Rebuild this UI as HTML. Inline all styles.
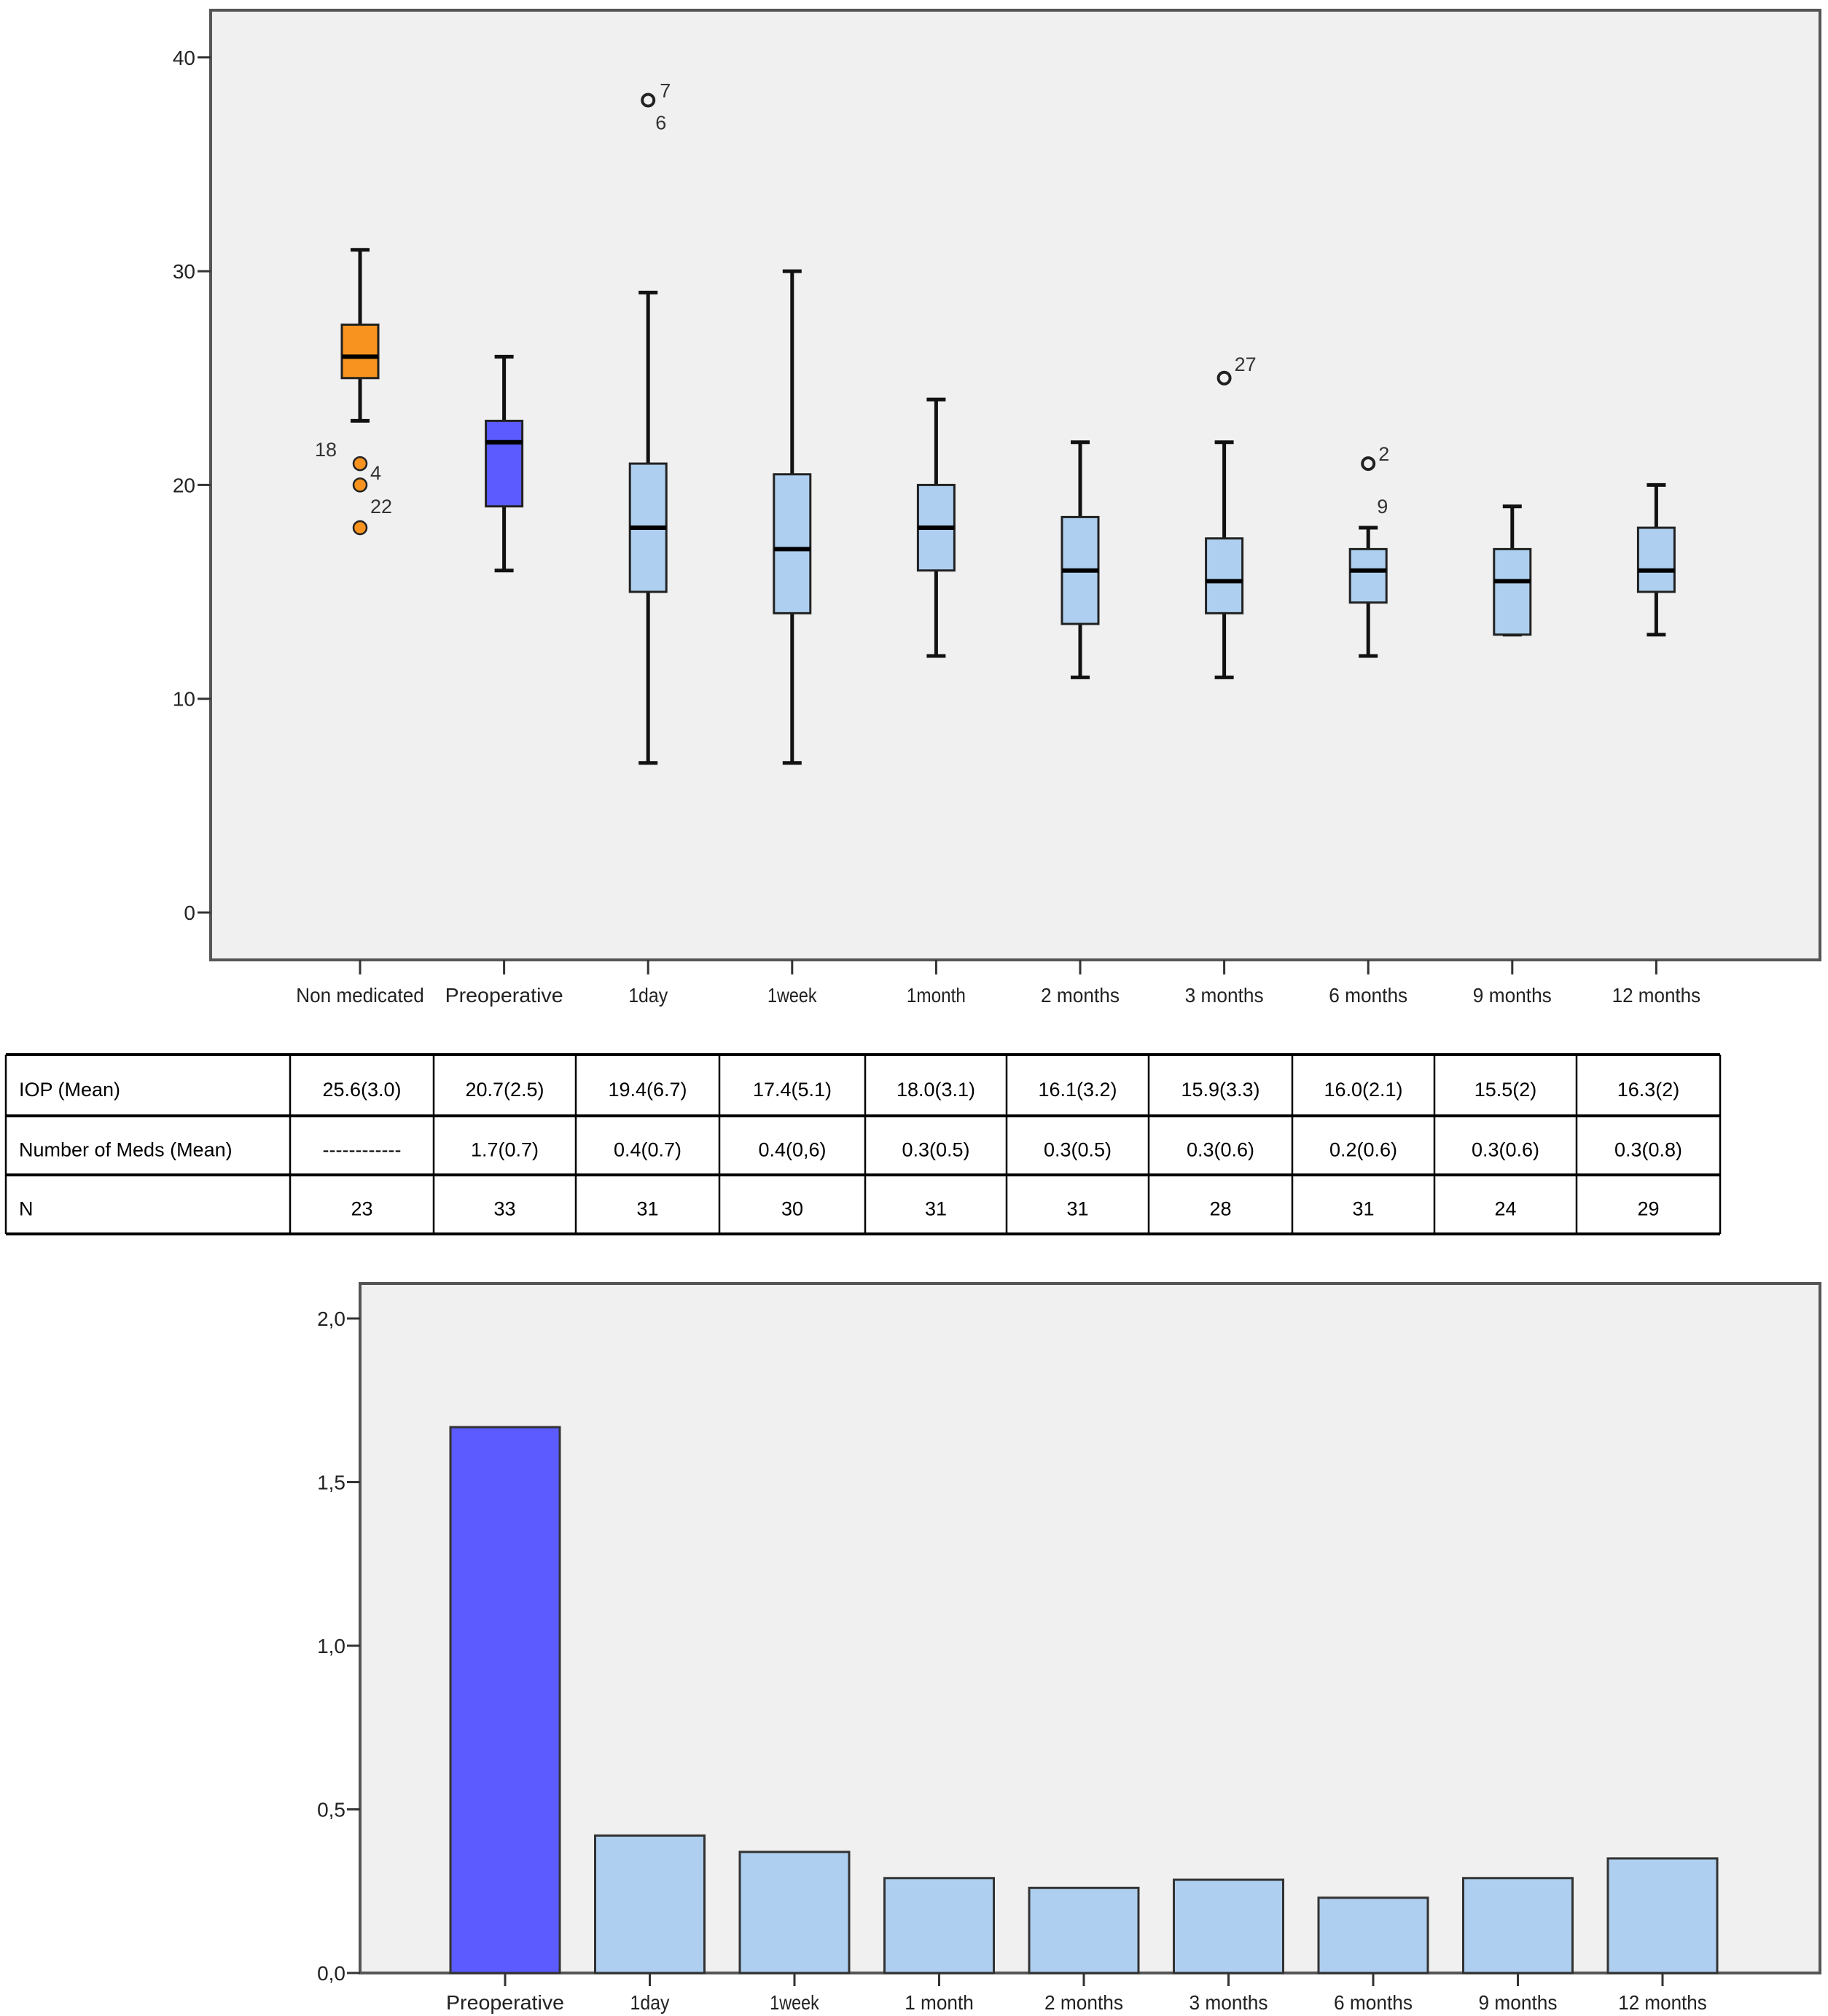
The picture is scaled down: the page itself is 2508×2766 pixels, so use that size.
<!DOCTYPE html>
<html><head><meta charset="utf-8">
<style>
html,body{margin:0;padding:0;background:#fff;}
svg{display:block;}
text{font-family:"Liberation Sans",sans-serif;}
</style></head>
<body>
<svg id="chart" width="2508" height="2766" viewBox="0 0 2508 2766" xmlns="http://www.w3.org/2000/svg">
<rect x="0" y="0" width="2508" height="2766" fill="#fff"/>
<g id="top"></g>
<g id="table"></g>
<g id="bottom"></g>
</svg>
<script>
// ---------- box plot data ----------
const boxCats = ["Non medicated","Preoperative","1day","1week","1month","2 months","3 months","6 months","9 months","12 months"];
const whiskLo = [23,16,7,7,12,11,11,12,13,13];
const q1 = [25,19,15,14,16,13.5,14,14.5,13,15];
const med = [26,22,18,17,18,16,15.5,16,15.5,16];
const q3 = [27.5,23,21,20.5,20,18.5,17.5,17,17,18];
const whiskHi = [31,26,29,30,24,22,22,18,19,20];
const outlierCat = [0,0,0,2,6,7];
const outlierVal = [21,20,18,38,25,21];
const outlierFilled = [true,true,true,false,false,false];
// label text, outlier index, dx, dy (label positions relative to outlier)
const outLabelText = ["18","4","22","7","6","27","2","9"];
const outLabelIdx = [0,0,2,3,3,4,5,5];
const outLabelDx = [-62,14,14,16,10,14,14,12];
const outLabelDy = [-20,12,-30,-14,30,-20,-14,58];
const yTicksTop = [0,10,20,30,40];
// ---------- table data ----------
const rowHeads = ["IOP (Mean)","Number of Meds (Mean)","N"];
const iopRow = ["25.6(3.0)","20.7(2.5)","19.4(6.7)","17.4(5.1)","18.0(3.1)","16.1(3.2)","15.9(3.3)","16.0(2.1)","15.5(2)","16.3(2)"];
const medsRow = ["------------","1.7(0.7)","0.4(0.7)","0.4(0,6)","0.3(0.5)","0.3(0.5)","0.3(0.6)","0.2(0.6)","0.3(0.6)","0.3(0.8)"];
const nRow = ["23","33","31","30","31","31","28","31","24","29"];
// ---------- bar chart data ----------
const barCats = ["Preoperative","1day","1week","1 month","2 months","3 months","6 months","9 months","12 months"];
const barVals = [1.668,0.42,0.37,0.29,0.26,0.285,0.23,0.29,0.35];
const yTicksBot = [0,0.5,1.0,1.5,2.0];
const yTickLabelsBot = ["0,0","0,5","1,0","1,5","2,0"];

const NS="http://www.w3.org/2000/svg";
function mk(parent,tag,attrs,txt){const e=document.createElementNS(NS,tag);for(const k in attrs)e.setAttribute(k,attrs[k]);if(txt!==undefined)e.textContent=txt;parent.appendChild(e);return e;}

// ---- top box plot ----
const T=document.getElementById('top');
const tx=i=>494+i*197.6;
const ty=v=>1252-v*29.33;
let fr=mk(T,'rect',{x:289,y:14,width:2208,height:1303,fill:'#f0f0f0',stroke:'#555',"stroke-width":4});

yTicksTop.forEach(v=>{
  let l=mk(T,'line',{x1:271,x2:289,y1:ty(v),y2:ty(v),stroke:'#333',"stroke-width":3});
  
  let t=mk(T,'text',{x:268,y:ty(v)+10,"text-anchor":"end","font-size":28,fill:'#222'},String(v));
  
});
boxCats.forEach((c,i)=>{
  const x=tx(i),hw=25;
  const col=i===0?'#f7931e':(i===1?'#5b5bff':'#aecfef');
  let g=mk(T,'g',{});
  
  
  mk(g,'line',{x1:x,x2:x,y1:ty(whiskHi[i]),y2:ty(whiskLo[i]),stroke:'#111',"stroke-width":5});
  mk(g,'line',{x1:x-13,x2:x+13,y1:ty(whiskHi[i]),y2:ty(whiskHi[i]),stroke:'#111',"stroke-width":5});
  mk(g,'line',{x1:x-13,x2:x+13,y1:ty(whiskLo[i]),y2:ty(whiskLo[i]),stroke:'#111',"stroke-width":5});
  mk(g,'rect',{x:x-hw,y:ty(q3[i]),width:hw*2,height:ty(q1[i])-ty(q3[i]),fill:col,stroke:'#222',"stroke-width":3});
  mk(g,'line',{x1:x-hw,x2:x+hw,y1:ty(med[i]),y2:ty(med[i]),stroke:'#000',"stroke-width":6});
  let tk=mk(T,'line',{x1:x,x2:x,y1:1317,y2:1337,stroke:'#333',"stroke-width":3});
  
  let t=mk(T,'text',{x:x,y:1375,"text-anchor":"middle","font-size":28,fill:'#222',textLength:c.length*13.5,lengthAdjust:'spacingAndGlyphs'},c);
  
});
outlierVal.forEach((v,k)=>{
  const x=tx(outlierCat[k]),y=ty(v);
  let c=mk(T,'circle',{cx:x,cy:y,r:outlierFilled[k]?9:8,fill:outlierFilled[k]?'#f7931e':'none',stroke:'#222',"stroke-width":outlierFilled[k]?2.5:4});
  
});
outLabelText.forEach((s,j)=>{
  const k=outLabelIdx[j];
  const x=tx(outlierCat[k]),y=ty(outlierVal[k]);
  let t=mk(T,'text',{x:x+outLabelDx[j],y:y+outLabelDy[j]+10,"font-size":27,fill:'#333'},s);
  
});

// ---- table ----
const TB=document.getElementById('table');
const colX=[8,398,595,790,987,1187,1381,1576,1773,1968,2163,2360];
const rowY=[1447,1531,1612,1693];
[iopRow,medsRow,nRow].forEach((row,r)=>{
  const cy=(rowY[r]+rowY[r+1])/2+15;
  let h=mk(TB,'text',{x:colX[0]+18,y:cy,"font-size":27,fill:'#000'},rowHeads[r]);
  
  row.forEach((v,j)=>{
    let t=mk(TB,'text',{x:(colX[j+1]+colX[j+2])/2,y:cy,"text-anchor":"middle","font-size":27,fill:'#000'},v);
    
  });
});
rowY.forEach(y=>{let l=mk(TB,'line',{x1:colX[0],x2:colX[11],y1:y,y2:y,stroke:'#000',"stroke-width":4});});
colX.forEach(x=>{let l=mk(TB,'line',{x1:x,x2:x,y1:rowY[0],y2:rowY[3],stroke:'#000',"stroke-width":2.5});});

// ---- bottom bar chart ----
const B=document.getElementById('bottom');
const bx=i=>693+i*198.5;
const by=v=>2707-v*449;
let fb=mk(B,'rect',{x:494,y:1761,width:2003,height:946,fill:'#f0f0f0',stroke:'#555',"stroke-width":4});

yTicksBot.forEach((v,k)=>{
  let l=mk(B,'line',{x1:476,x2:494,y1:by(v),y2:by(v),stroke:'#333',"stroke-width":3});
  
  let t=mk(B,'text',{x:474,y:by(v)+10,"text-anchor":"end","font-size":28,fill:'#222'},yTickLabelsBot[k]);
  
});
barCats.forEach((c,i)=>{
  const x=bx(i);
  let r=mk(B,'rect',{x:x-75,y:by(barVals[i]),width:150,height:by(0)-by(barVals[i]),fill:i===0?'#5b5bff':'#aecfef',stroke:'#333',"stroke-width":3});
  
  let tk=mk(B,'line',{x1:x,x2:x,y1:2707,y2:2725,stroke:'#333',"stroke-width":3});
  
  let t=mk(B,'text',{x:x,y:2757,"text-anchor":"middle","font-size":28,fill:'#222',textLength:c.length*13.5,lengthAdjust:'spacingAndGlyphs'},c);
  
});
</script>
</body></html>
